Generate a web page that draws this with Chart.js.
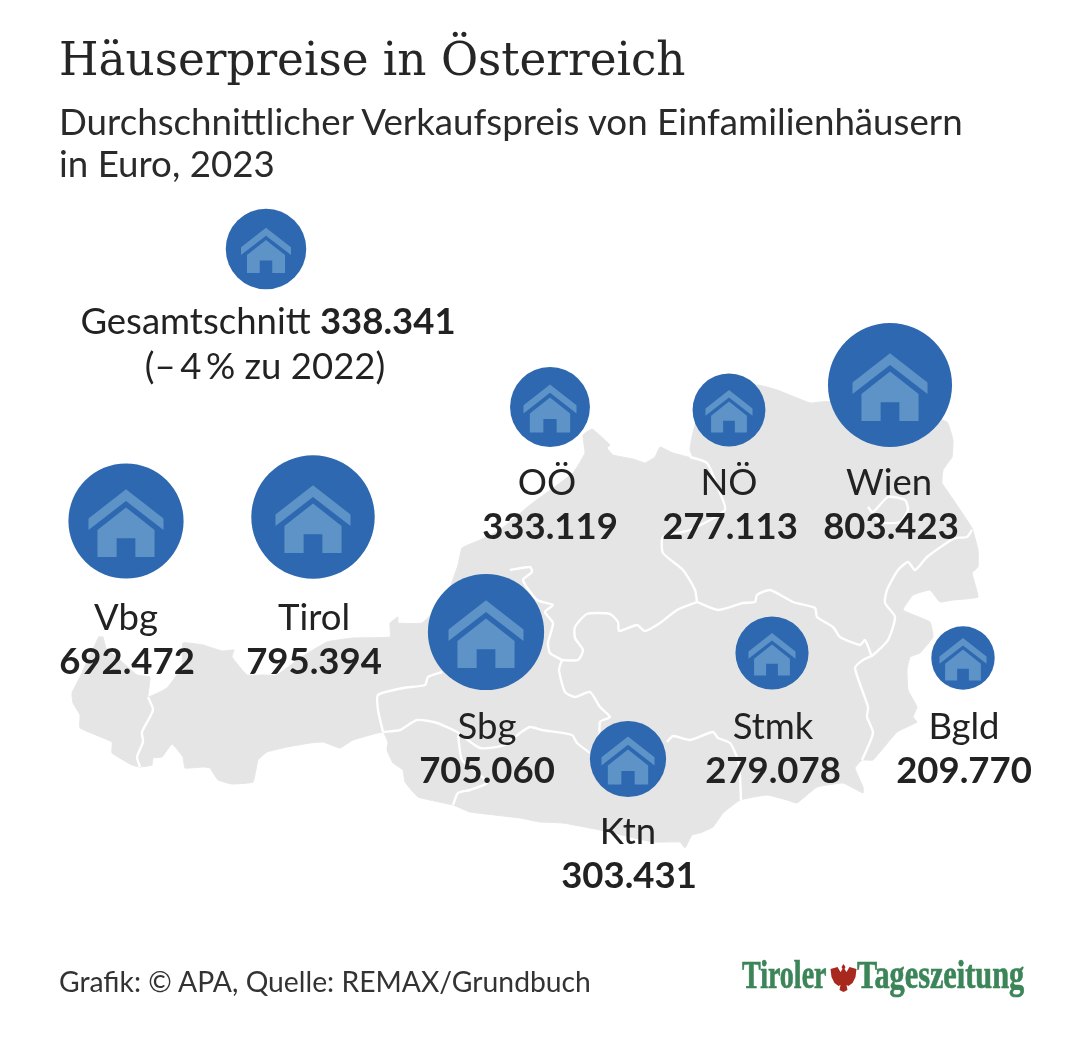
<!DOCTYPE html>
<html lang="de">
<head>
<meta charset="utf-8">
<title>Häuserpreise in Österreich</title>
<script src="https://cdn.jsdelivr.net/npm/chart.js@4/dist/chart.umd.js"></script>
<style>
html,body{margin:0;padding:0;background:#fff;}
#wrap{position:relative;width:1080px;height:1052px;overflow:hidden;color:#222;}
#wrap div{position:absolute;white-space:nowrap;}
#c{position:absolute;left:0;top:0;}
#title{left:59px;top:29px;font:400 46px/60px "DejaVu Serif",serif;transform-origin:0 0;transform:scaleX(.985);color:#262626;}
#sub1,#sub2{left:59px;font:400 36.7px/44px Lato,sans-serif;color:#2a2a2a;}
#sub1{top:99px;}
#sub2{top:141px;}
#foot{left:59px;top:964px;font:400 28.3px/34px Lato,sans-serif;color:#333;}
.logo{font:700 40px/44px "Liberation Serif",serif;color:#3b8559;transform-origin:0 0;-webkit-text-stroke:.7px #3b8559;}
#logo1{left:742px;top:953px;transform:scaleX(.7);}
#logo2{left:857px;top:953px;transform:scaleX(.757);}
#eagle{left:829px;top:961px;}
</style>
</head>
<body>
<div id="wrap">
<canvas id="c" width="1080" height="1052"></canvas>
<div id="title">Häuserpreise in Österreich</div>
<div id="sub1">Durchschnittlicher Verkaufspreis von Einfamilienhäusern</div>
<div id="sub2">in Euro, 2023</div>
<div id="foot">Grafik: © APA, Quelle: REMAX/Grundbuch</div>
<div id="logo1" class="logo">Tiroler</div>
<div id="eagle"><svg width="29" height="32" viewBox="0 0 29 32"><path fill="#a9281e" d="M14.5 3l2 3-1 2 2 3 3-5 7 2-1 8-3 6-4 3-2-1 1 5-4 2-4-2 1-5-2 1-4-3-3-6-1-8 7-2 3 5 2-3-1-2z"/></svg></div>
<div id="logo2" class="logo">Tageszeitung</div>
</div>
<script>
var regions=["OÖ","NÖ","Wien","Vbg","Tirol","Sbg","Stmk","Bgld","Ktn"];
var prices=[333119,277113,803423,692472,795394,705060,279078,209770,303431];
var priceLabels=["333.119","277.113","803.423","692.472","795.394","705.060","279.078","209.770","303.431"];
// where the bubbles sit on the map
var mapX=[550,729,890,126,313,486,772,963,628];
var mapY=[407,410,385,521,517,632,653,658,759];
var labelX=[547,729,889,126,314,487,773,964,628];
var labelY=[495,495,495,630,630,739,739,739,844];
// house icons come in three sizes only, last one is the average bubble
var iconW=[53,47,75,75,75,75,47,47,53,50];
var avgPrice=338341, avgX=266, avgY=249;
var avgLabel="Gesamtschnitt ", avgValue="338.341", avgChange="(–\u20094\u2009% zu 2022)";

var outline=[[98,637],[103,637],[106,648],[120,660],[137,675],[150,677],[148,697],[167,688],[182,667],[183,643],[203,645],[222,651],[234,650],[232,657],[247,675],[263,675],[277,675],[300,658],[327,642],[353,638],[390,637],[390,623],[398,617],[398,623],[422,623],[445,600],[458,565],[462,548],[480,540],[500,530],[530,505],[573,473],[585,453],[583,435],[592,429],[610,445],[607,448],[613,455],[633,459],[645,463],[655,457],[660,447],[673,453],[693,458],[690,450],[692,437],[700,410],[757,385],[777,390],[810,403],[820,402],[880,400],[947,422],[953,440],[952,457],[943,470],[942,483],[948,492],[972,528],[978,550],[978,567],[972,573],[978,597],[953,600],[940,602],[930,590],[913,595],[903,610],[930,622],[933,637],[920,653],[910,657],[907,670],[908,690],[917,707],[913,717],[917,722],[897,732],[873,760],[862,760],[855,768],[863,787],[863,793],[843,783],[817,787],[797,803],[787,800],[767,795],[740,800],[723,813],[713,827],[700,833],[692,835],[685,848],[680,842],[653,842],[600,830],[563,823],[540,822],[520,818],[470,812],[453,805],[418,797],[405,782],[403,770],[393,763],[387,750],[388,742],[383,732],[353,740],[340,748],[323,742],[310,743],[287,747],[267,752],[258,760],[253,782],[232,784],[218,780],[210,768],[203,767],[185,768],[183,757],[172,744],[162,757],[153,758],[152,765],[140,767],[132,765],[112,753],[112,742],[80,728],[80,715],[73,703],[72,693],[80,677],[90,655]];
var borders=[
[[140,767],[137,757],[143,742],[142,732],[153,710],[148,697]],
[[383,732],[378,710],[378,695],[403,688],[425,685],[428,677],[442,672]],
[[383,732],[400,730],[417,720],[437,723],[457,732],[480,748],[505,745],[520,733],[530,727],[542,730],[572,735],[577,743],[590,753]],
[[458,735],[462,760],[480,775],[487,783],[470,790],[458,793],[453,805]],
[[600,745],[600,722],[610,717],[600,707],[590,692],[575,697],[565,692],[559,670],[562,660]],
[[510,570],[530,567],[532,572],[523,580],[537,600],[553,605],[545,612],[553,623],[548,643],[550,653],[562,660]],
[[562,660],[578,660],[583,650],[575,638],[575,627],[587,614],[610,614],[618,622],[619,631],[637,625],[645,631],[660,623],[677,610],[697,602]],
[[690,457],[707,463],[720,493],[725,510],[690,530],[663,537],[663,553],[683,570],[695,590],[697,602]],
[[697,602],[718,610],[743,603],[755,602],[757,595],[770,590],[793,602],[815,608],[817,617],[833,627],[840,637],[860,645],[865,640],[872,657]],
[[972,530],[967,537],[955,538],[948,542],[927,557],[915,570],[908,562],[898,570],[887,590],[885,603],[895,617],[888,640],[873,655],[863,660],[855,668],[868,707],[867,717],[873,733],[862,760]],
[[868,507],[873,512],[888,497],[905,500],[908,510],[900,522],[880,522],[868,507]],
[[667,742],[673,736],[690,740],[713,732],[718,738],[730,743],[738,760],[740,777],[741,800]]
];

function pts(list){return list.map(function(p){return {x:p[0],y:p[1]};});}
function bubbleR(v){return 0.0692*Math.sqrt(v);}

var bubbleData=regions.map(function(n,i){return {x:mapX[i],y:mapY[i],r:bubbleR(prices[i])};});
bubbleData.push({x:avgX,y:avgY,r:bubbleR(avgPrice)});

var datasets=[{type:"bubble",data:bubbleData,backgroundColor:"#2d68b0",borderWidth:0,order:0}];
borders.forEach(function(b){
  datasets.push({type:"line",data:pts(b),borderColor:"#ffffff",borderWidth:2.4,pointRadius:0,fill:false,tension:0.2,order:1});
});
datasets.push({type:"line",data:pts(outline),borderColor:"#e5e5e5",borderWidth:1,backgroundColor:"#e5e5e5",pointRadius:0,fill:"shape",tension:0.1,order:2});

// house icon on top of each bubble
function houseIcon(ctx,cx,cy,w){
  var s=w/1.2;
  ctx.fillStyle="#5e93c7";
  ctx.beginPath();
  ctx.moveTo(cx,cy-0.51*s);ctx.lineTo(cx+0.6*s,cy-0.04*s);ctx.lineTo(cx+0.6*s,cy+0.145*s);
  ctx.lineTo(cx,cy-0.32*s);ctx.lineTo(cx-0.6*s,cy+0.145*s);ctx.lineTo(cx-0.6*s,cy-0.04*s);
  ctx.closePath();ctx.fill();
  ctx.beginPath();
  ctx.moveTo(cx,cy-0.215*s);ctx.lineTo(cx+0.457*s,cy+0.145*s);ctx.lineTo(cx+0.457*s,cy+0.575*s);
  ctx.lineTo(cx+0.15*s,cy+0.575*s);ctx.lineTo(cx+0.15*s,cy+0.274*s);ctx.lineTo(cx-0.15*s,cy+0.274*s);
  ctx.lineTo(cx-0.15*s,cy+0.575*s);ctx.lineTo(cx-0.457*s,cy+0.575*s);ctx.lineTo(cx-0.457*s,cy+0.145*s);
  ctx.closePath();ctx.fill();
}

var overlay={
  id:"overlay",
  afterDatasetsDraw:function(chart){
    var ctx=chart.ctx, xs=chart.scales.x, ys=chart.scales.y;
    ctx.save();
    chart.getDatasetMeta(0).data.forEach(function(el,i){
      houseIcon(ctx,el.x,el.y,iconW[i]);
    });
    ctx.fillStyle="#222222";
    ctx.textAlign="center";
    ctx.textBaseline="alphabetic";
    regions.forEach(function(n,i){
      var x=xs.getPixelForValue(labelX[i]), y=ys.getPixelForValue(labelY[i]);
      ctx.font="400 36.5px Lato";
      ctx.fillText(n,x,y);
      ctx.font="700 36.5px Lato";
      ctx.fillText(priceLabels[i],xs.getPixelForValue(mapX[i]+(i==0?0:1)),y+44);
    });
    // average, regular + bold on one line
    ctx.textAlign="left";
    ctx.font="400 36.5px Lato";
    var w1=ctx.measureText(avgLabel).width;
    ctx.font="700 36.5px Lato";
    var w2=ctx.measureText(avgValue).width;
    var sx=xs.getPixelForValue(avgX+2)-(w1+w2)/2, ay=ys.getPixelForValue(334);
    ctx.font="400 36.5px Lato";
    ctx.fillText(avgLabel,sx,ay);
    ctx.font="700 36.5px Lato";
    ctx.fillText(avgValue,sx+w1,ay);
    ctx.textAlign="center";
    ctx.font="400 36.5px Lato";
    ctx.fillText(avgChange,xs.getPixelForValue(avgX-1),ys.getPixelForValue(379));
    ctx.restore();
  }
};

new Chart(document.getElementById("c"),{
  type:"bubble",
  data:{datasets:datasets},
  options:{
    responsive:false,
    animation:false,
    layout:{padding:0,autoPadding:false},
    plugins:{legend:{display:false},tooltip:{enabled:false},title:{display:false}},
    scales:{
      x:{type:"linear",min:0,max:1080,display:false,offset:false},
      y:{type:"linear",min:0,max:1052,reverse:true,display:false,offset:false}
    }
  },
  plugins:[overlay]
});
</script>
</body>
</html>
